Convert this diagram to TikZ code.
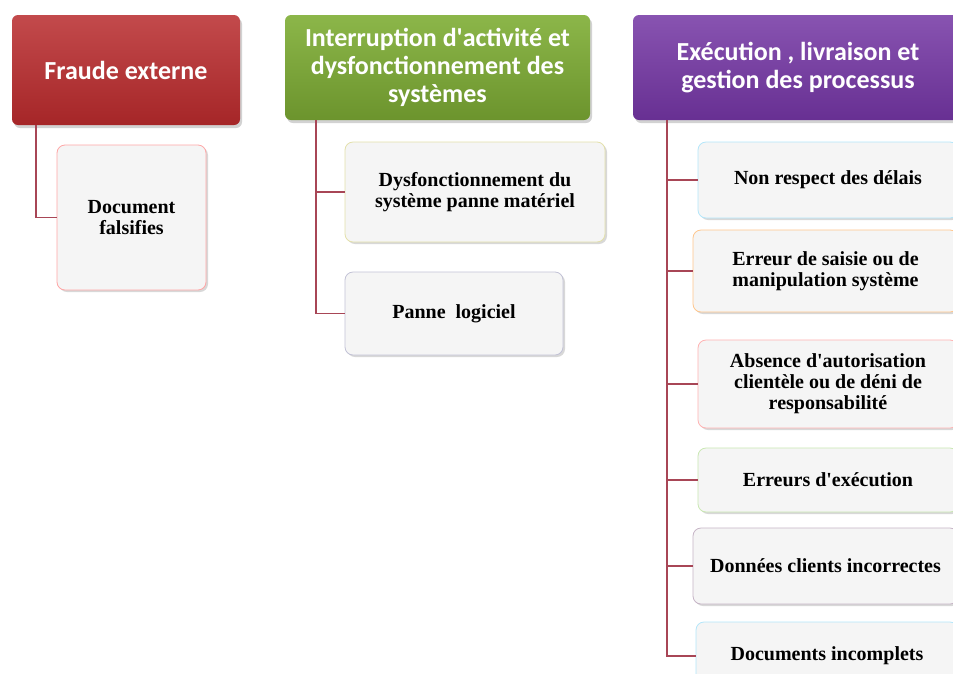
\documentclass[tikz,border=0pt]{standalone}
\usepackage{fontspec}
\setmainfont{Liberation Serif}
\newfontfamily\headfont{Carlito}
\usetikzlibrary{shadows}

\definecolor{lienrouge}{HTML}{A84656}
\definecolor{rougeh}{HTML}{B82A2C}
\definecolor{verth}{HTML}{7FAE35}
\definecolor{violeth}{HTML}{7335A3}

\tikzset{
	entete/.style={rounded corners=6pt, text=white, align=center,
		font=\headfont\bfseries\fontsize{26}{28}\selectfont,
		drop shadow={shadow xshift=2pt, shadow yshift=-3pt, opacity=0.35}},
	risque/.style={rounded corners=8pt, draw=#1, line width=0.8pt, fill=gray!8,
		align=center, font=\bfseries\fontsize{20}{21}\selectfont,
		drop shadow={shadow xshift=2pt, shadow yshift=-2pt, opacity=0.3}},
	lien/.style={draw=lienrouge, line width=1.6pt}
}

\begin{document}
\begin{tikzpicture}[x=1pt,y=-1pt]
			\useasboundingbox[fill=white] (0,0) rectangle (953,673);
			
			%%%headers
			\node[entete, top color=rougeh!85!white, bottom color=rougeh!90!black,
				minimum width=228pt, minimum height=110pt] (fraude) at (126,70) {Fraude externe};
			\node[entete, top color=verth!90!white, bottom color=verth!85!black,
				minimum width=305pt, minimum height=105pt] (interr) at (437.5,67.5)
				{Interruption d\textquotesingle activité et\\dysfonctionnement des\\systèmes};
			\node[entete, top color=violeth!85!white, bottom color=violeth!90!black,
				minimum width=330pt, minimum height=105pt] (exec) at (798,67.5)
				{Exécution , livraison et\\gestion des processus};
			
			%%%first
			\node[risque=red!35, minimum width=149pt, minimum height=145pt] (doc) at (131.5,217.5)
				{Document\\falsifies};
			\draw[lien] ([xshift=24pt]fraude.south west) |- (doc.west);
			
			%%%second
			\node[risque=olive!25, minimum width=260pt, minimum height=100pt] (dysf) at (475,192)
				{Dysfonctionnement du\\système panne matériel};
			\node[risque=blue!20!gray!40, minimum width=218pt, minimum height=83pt] (panne) at (454,313.5)
				{Panne\ \ logiciel};
			\foreach \n in {dysf, panne}
				\draw[lien] ([xshift=31pt]interr.south west) |- (\n.west);
			
			%%%third
			\node[risque=cyan!30, minimum width=260pt, minimum height=76pt] (delais) at (828,180)
				{Non respect des délais};
			\node[risque=orange!45, minimum width=265pt, minimum height=82pt] (saisie) at (825.5,271)
				{Erreur de saisie ou de\\manipulation système};
			\node[risque=red!30, minimum width=260pt, minimum height=88pt] (autoris) at (828,384)
				{Absence d\textquotesingle autorisation\\clientèle ou de déni de\\responsabilité};
			\node[risque=green!40!olive!30, minimum width=260pt, minimum height=64pt] (erreurs) at (828,480)
				{Erreurs d\textquotesingle exécution};
			\node[risque=violet!30!gray!45, minimum width=265pt, minimum height=76pt] (donnees) at (825.5,566)
				{Données clients incorrectes};
			\node[risque=cyan!30, minimum width=262pt, minimum height=68pt] (incompl) at (827,656)
				{Documents incomplets};
			\foreach \n in {delais, saisie, autoris, erreurs, donnees, incompl}
				\draw[lien] ([xshift=34pt]exec.south west) |- (\n.west);
		\end{tikzpicture}
\end{document}
